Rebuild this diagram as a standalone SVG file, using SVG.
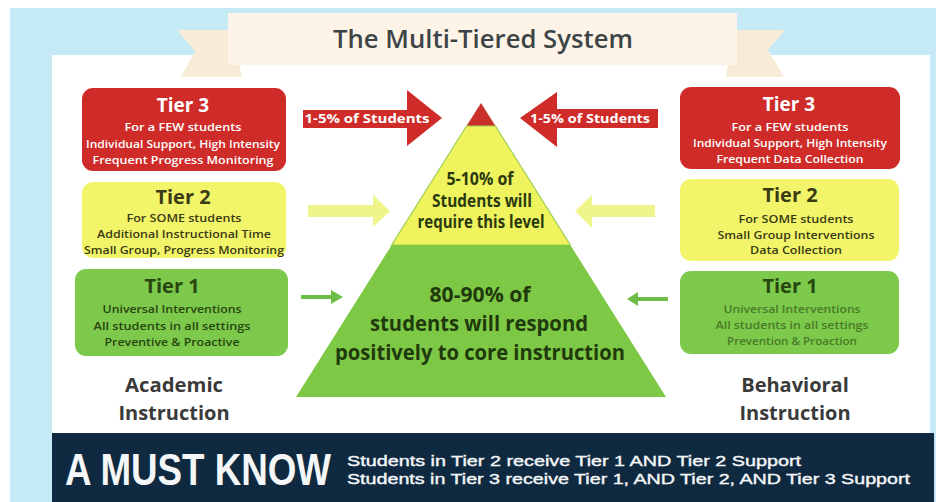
<svg xmlns="http://www.w3.org/2000/svg" width="938" height="502" viewBox="0 0 938 502">
<style>
.f{font-family:"Open Sans","Liberation Sans",Arial,sans-serif;}
.ls{font-family:"Liberation Sans",Arial,sans-serif;}
.head{font-family:"Open Sans","Liberation Sans",Arial,sans-serif;font-weight:700;text-anchor:middle;}
.sm{font-family:"Open Sans","Liberation Sans",Arial,sans-serif;font-weight:600;font-size:10.5px;text-anchor:middle;}
.red{fill:#cf2b28;}
.yel{fill:#f2f56a;}
.grn{fill:#7cc94b;}
.w{fill:#ffffff;}
.dk{fill:#3a3a14;}
.dg{fill:#28460f;}
</style>
<rect x="0" y="0" width="938" height="502" fill="#ffffff"/>
<rect x="10" y="8" width="926" height="494" fill="#c6e9f6"/>
<rect x="52" y="55" width="878" height="380" fill="#ffffff"/>
<g id="title">
<polygon points="232,30 177,30 195,51 181,77 242,77" fill="#f8ecd9"/>
<polygon points="733,30 785,30 768,50 784,77 726,77" fill="#f8ecd9"/>
<rect x="228" y="13" width="509" height="52" fill="#fdf4e7"/>
<text class="f" x="483" y="48" font-size="25" font-weight="600" fill="#3d4448" text-anchor="middle" textLength="300" lengthAdjust="spacingAndGlyphs">The Multi-Tiered System</text>
</g>
<g id="left-tier3">
<rect x="82" y="88" width="204" height="83" rx="11" class="red"/>
<text class="head w" x="183" y="112" font-size="19">Tier 3</text>
<text class="sm w" x="183" y="131" textLength="117" lengthAdjust="spacingAndGlyphs">For a FEW students</text>
<text class="sm w" x="183" y="148" textLength="194" lengthAdjust="spacingAndGlyphs">Individual Support, High Intensity</text>
<text class="sm w" x="183" y="164" textLength="181" lengthAdjust="spacingAndGlyphs">Frequent Progress Monitoring</text>
</g>
<g id="left-tier2">
<rect x="82" y="182" width="204" height="76" rx="11" class="yel"/>
<text class="head dk" x="183" y="204" font-size="20">Tier 2</text>
<text class="sm dk" x="184" y="222" font-weight="700" textLength="115" lengthAdjust="spacingAndGlyphs">For SOME students</text>
<text class="sm dk" x="184" y="238" font-weight="700" textLength="174" lengthAdjust="spacingAndGlyphs">Additional Instructional Time</text>
<text class="sm dk" x="184" y="254" font-weight="700" textLength="200" lengthAdjust="spacingAndGlyphs">Small Group, Progress Monitoring</text>
</g>
<g id="left-tier1">
<rect x="75" y="269" width="213" height="87" rx="11" class="grn"/>
<text class="head dg" x="172" y="293" font-size="20">Tier 1</text>
<text class="sm dg" x="172" y="313" font-weight="700" textLength="139" lengthAdjust="spacingAndGlyphs">Universal Interventions</text>
<text class="sm dg" x="172" y="330" font-weight="700" textLength="157" lengthAdjust="spacingAndGlyphs">All students in all settings</text>
<text class="sm dg" x="172" y="346" font-weight="700" textLength="135" lengthAdjust="spacingAndGlyphs">Preventive &amp; Proactive</text>
</g>
<g id="right-tier3">
<rect x="680" y="87" width="220" height="82" rx="11" class="red"/>
<text class="head w" x="789" y="111" font-size="19">Tier 3</text>
<text class="sm w" x="790" y="131" textLength="117" lengthAdjust="spacingAndGlyphs">For a FEW students</text>
<text class="sm w" x="790" y="147" textLength="194" lengthAdjust="spacingAndGlyphs">Individual Support, High Intensity</text>
<text class="sm w" x="790" y="163" textLength="147" lengthAdjust="spacingAndGlyphs">Frequent Data Collection</text>
</g>
<g id="right-tier2">
<rect x="680" y="179" width="219" height="82" rx="11" class="yel"/>
<text class="head dk" x="790" y="202" font-size="20">Tier 2</text>
<text class="sm dk" x="796" y="223" font-weight="700" textLength="115" lengthAdjust="spacingAndGlyphs">For SOME students</text>
<text class="sm dk" x="796" y="239" font-weight="700" textLength="157" lengthAdjust="spacingAndGlyphs">Small Group Interventions</text>
<text class="sm dk" x="796" y="254" font-weight="700" textLength="92" lengthAdjust="spacingAndGlyphs">Data Collection</text>
</g>
<g id="right-tier1">
<rect x="680" y="271" width="219" height="83" rx="11" class="grn"/>
<text class="head dg" x="790" y="293" font-size="20">Tier 1</text>
<text class="sm" x="792" y="313" fill="#4a7a26" font-weight="400" textLength="137" lengthAdjust="spacingAndGlyphs">Universal Interventions</text>
<text class="sm" x="792" y="329" fill="#4a7a26" font-weight="400" textLength="153" lengthAdjust="spacingAndGlyphs">All students in all settings</text>
<text class="sm" x="792" y="345" fill="#4a7a26" font-weight="400" textLength="130" lengthAdjust="spacingAndGlyphs">Prevention &amp; Proaction</text>
</g>
<g id="pyramid">
<polygon points="481,103 495.5,126 466.5,126" fill="#c9302a"/>
<polygon points="466.5,126 495.5,126 570.3,245 391.7,245" fill="#eff35e" stroke="#9fcf55" stroke-width="1.2"/>
<polygon points="391.7,245 570.3,245 666,397 296,397" fill="#7dc845"/>
<text class="head" x="480" y="185" font-size="17" fill="#2a3a0e" textLength="67" lengthAdjust="spacingAndGlyphs">5-10% of</text>
<text class="head" x="482" y="207" font-size="17" fill="#2a3a0e" textLength="100" lengthAdjust="spacingAndGlyphs">Students will</text>
<text class="head" x="481" y="228" font-size="17" fill="#2a3a0e" textLength="127" lengthAdjust="spacingAndGlyphs">require this level</text>
<text class="head" x="480" y="302" font-size="21" fill="#1f3a0c" textLength="101" lengthAdjust="spacingAndGlyphs">80-90% of</text>
<text class="head" x="479" y="331" font-size="21" fill="#1f3a0c" textLength="218" lengthAdjust="spacingAndGlyphs">students will respond</text>
<text class="head" x="480" y="360" font-size="21" fill="#1f3a0c" textLength="290" lengthAdjust="spacingAndGlyphs">positively to core instruction</text>
</g>
<g id="connectors">
<polygon points="303,110 407,110 407,90 442,118 407,146 407,128 303,128" class="red"/>
<text class="head w" x="367" y="123" font-size="12" textLength="125" lengthAdjust="spacingAndGlyphs">1-5% of Students</text>
<polygon points="658,109 557,109 557,92 520,118 557,147 557,128 658,128" class="red"/>
<text class="head w" x="590" y="123" font-size="12" textLength="120" lengthAdjust="spacingAndGlyphs">1-5% of Students</text>
<polygon points="308,205 373,205 373,195 390,211 373,227 373,217 308,217" fill="#eff58a"/>
<polygon points="655,205 592,205 592,195 575,211 592,228 592,217 655,217" fill="#eff58a"/>
<line x1="301" y1="297" x2="333" y2="297" stroke="#6dbd48" stroke-width="4"/>
<polygon points="331,290 343,297 331,304" fill="#6dbd48"/>
<line x1="668" y1="299" x2="636" y2="299" stroke="#6dbd48" stroke-width="4"/>
<polygon points="638,292 627,299 638,306" fill="#6dbd48"/>
</g>
<g id="label-academic">
<text class="head" x="174" y="392" font-size="20" fill="#3a3a3a" textLength="98" lengthAdjust="spacingAndGlyphs">Academic</text>
<text class="head" x="174" y="420" font-size="20" fill="#3a3a3a">Instruction</text>
</g>
<g id="label-behavioral">
<text class="head" x="795" y="392" font-size="20" fill="#3a3a3a">Behavioral</text>
<text class="head" x="795" y="420" font-size="20" fill="#3a3a3a">Instruction</text>
</g>
<g id="banner">
<rect x="52" y="433" width="882" height="69" fill="#0f2a40"/>
<text class="ls" transform="translate(65,485) scale(1,1.24)" x="0" y="0" font-size="36" font-weight="700" fill="#f4f6f8" textLength="266" lengthAdjust="spacingAndGlyphs">A MUST KNOW</text>
<text class="ls" x="347" y="466" font-size="15.5" fill="#f4f6f8" stroke="#f4f6f8" stroke-width="0.4" textLength="454" lengthAdjust="spacingAndGlyphs">Students in Tier 2 receive Tier 1 AND Tier 2 Support</text>
<text class="ls" x="347" y="484" font-size="15.5" fill="#f4f6f8" stroke="#f4f6f8" stroke-width="0.4" textLength="563" lengthAdjust="spacingAndGlyphs">Students in Tier 3 receive Tier 1, AND Tier 2, AND Tier 3 Support</text>
</g>
</svg>
